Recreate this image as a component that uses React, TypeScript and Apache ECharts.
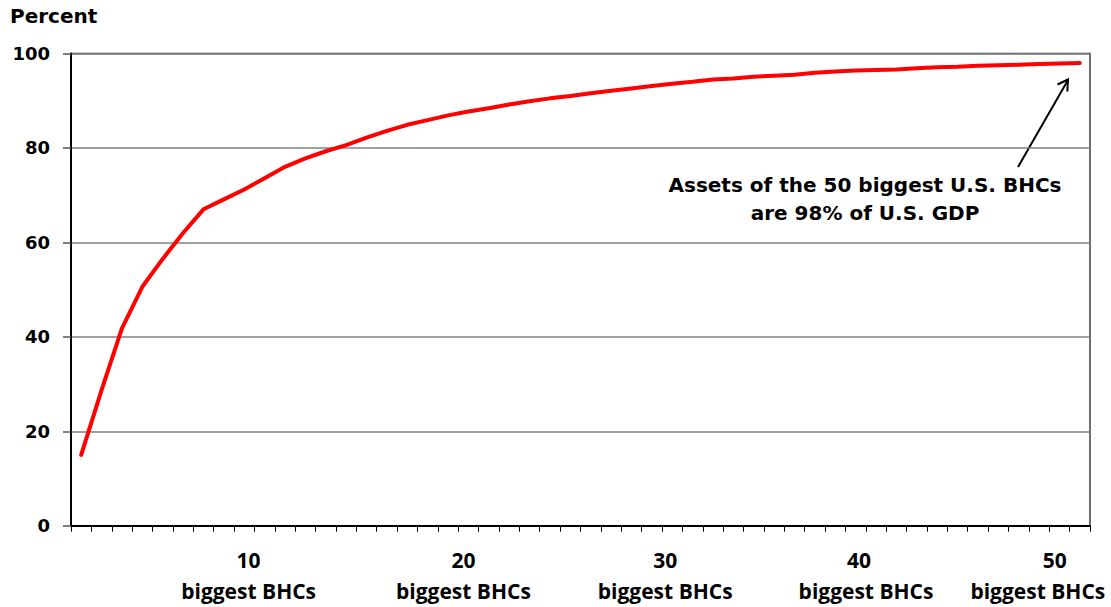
import React, { useEffect, useRef } from "react";
import * as echarts from "echarts";

const categories: string[] = [
  "1", "2", "3", "4", "5", "6", "7", "8", "9", "10",
  "11", "12", "13", "14", "15", "16", "17", "18", "19", "20",
  "21", "22", "23", "24", "25", "26", "27", "28", "29", "30",
  "31", "32", "33", "34", "35", "36", "37", "38", "39", "40",
  "41", "42", "43", "44", "45", "46", "47", "48", "49", "50",
];

const shareOfGdp: number[] = [
  15.0, 28.7, 41.8, 50.6, 56.5, 62.0, 67.0, 69.1, 71.2, 73.6,
  76.0, 77.8, 79.3, 80.6, 82.2, 83.6, 84.9, 85.9, 86.9, 87.7,
  88.4, 89.2, 89.9, 90.5, 91.0, 91.6, 92.1, 92.6, 93.1, 93.6,
  94.0, 94.5, 94.7, 95.1, 95.3, 95.5, 95.9, 96.2, 96.4, 96.5,
  96.6, 96.9, 97.1, 97.2, 97.4, 97.5, 97.6, 97.8, 97.9, 98.0,
];

const labeledCategories: string[] = ["10", "20", "30", "40", "50"];
const labelSuffix = "biggest BHCs";
const yTicks: number[] = [0, 20, 40, 60, 80, 100];

const yAxisTitle = "Percent";
const noteLine1 = "Assets of the 50 biggest U.S. BHCs";
const noteLine2 = "are 98% of U.S. GDP";

export default function App() {
  const ref = useRef<HTMLDivElement>(null);

  useEffect(() => {
    if (!ref.current) return;
    const chart = echarts.init(ref.current, undefined, { renderer: "svg" });

    // horizontal nudges of the two label lines (number, text), in px
    const shifts: Record<string, [number, number]> = {
      "10": [-16, -16],
      "20": [-5, -5],
      "30": [-7, -7],
      "40": [-17, -10],
      "50": [-25, -42],
    };
    const xFont = {
      fontFamily: "'Open Sans', sans-serif",
      fontWeight: "bold" as const,
      fontSize: 21,
      lineHeight: 31,
      color: "#000",
      align: "center" as const,
    };
    const rich: Record<string, any> = {};
    labeledCategories.forEach((c, i) => {
      const [sn, st] = shifts[c] || [0, 0];
      rich["n" + i] = { ...xFont, padding: [0, sn < 0 ? -2 * sn : 0, 0, sn > 0 ? 2 * sn : 0] };
      rich["t" + i] = { ...xFont, padding: [0, st < 0 ? -2 * st : 0, 0, st > 0 ? 2 * st : 0] };
    });

    const yFont = "'DejaVu Sans', sans-serif";

    chart.setOption({
      animation: false,
      backgroundColor: "#fff",
      grid: {
        left: 71,
        right: 21,
        top: 53.5,
        bottom: 81.3,
        containLabel: false,
        outerBoundsMode: "none",
        show: true,
        borderColor: "#404040",
        borderWidth: 1.5,
        backgroundColor: "transparent",
      },
      xAxis: {
        type: "category",
        data: categories,
        boundaryGap: true,
        axisLine: { show: true, lineStyle: { color: "#000", width: 2 } },
        axisTick: { show: true, interval: 0, length: 6, lineStyle: { color: "#000", width: 1 } },
        splitLine: { show: false },
        axisLabel: {
          interval: 0,
          margin: 19,
          rich,
          formatter: (value: string) => {
            const i = labeledCategories.indexOf(value);
            if (i < 0) return "";
            return `{n${i}|${value}}\n{t${i}|${labelSuffix}}`;
          },
        },
      },
      yAxis: {
        type: "value",
        min: yTicks[0],
        max: yTicks[yTicks.length - 1],
        interval: 20,
        axisLine: { show: true, lineStyle: { color: "#000", width: 2 } },
        axisTick: { show: true, length: 8, lineStyle: { color: "#555", width: 1.5 } },
        splitLine: { show: true, lineStyle: { color: "#808080", width: 1.5 } },
        axisLabel: {
          margin: 21,
          fontFamily: yFont,
          fontWeight: "bold",
          fontSize: 18,
          color: "#000",
        },
      },
      series: [
        {
          type: "line",
          data: shareOfGdp,
          symbol: "none",
          smooth: false,
          lineStyle: { color: "#FF0000", width: 4, cap: "round", join: "round" },
          z: 5,
        },
      ],
      graphic: [
        {
          type: "text",
          left: 10,
          top: 6,
          style: {
            text: yAxisTitle,
            font: `bold 20px ${yFont}`,
            fill: "#000",
          },
        },
        {
          type: "text",
          x: 865,
          y: 185,
          style: {
            text: noteLine1,
            font: `bold 20px ${yFont}`,
            fill: "#000",
            align: "center",
            verticalAlign: "middle",
          },
        },
        {
          type: "text",
          x: 865,
          y: 213,
          style: {
            text: noteLine2,
            font: `bold 20px ${yFont}`,
            fill: "#000",
            align: "center",
            verticalAlign: "middle",
          },
        },
        {
          type: "line",
          shape: { x1: 1018, y1: 167, x2: 1068, y2: 80 },
          style: { stroke: "#000", lineWidth: 2 },
        },
        {
          type: "polyline",
          shape: { points: [[1057.5, 84.5], [1068, 79.5], [1067.3, 91.5]] },
          style: { stroke: "#000", lineWidth: 2, fill: null },
        },
      ],
    });

    return () => chart.dispose();
  }, []);

  return (
    <div
      ref={ref}
      style={{ position: "fixed", left: 0, top: 0, width: 1111, height: 607 }}
    />
  );
}
